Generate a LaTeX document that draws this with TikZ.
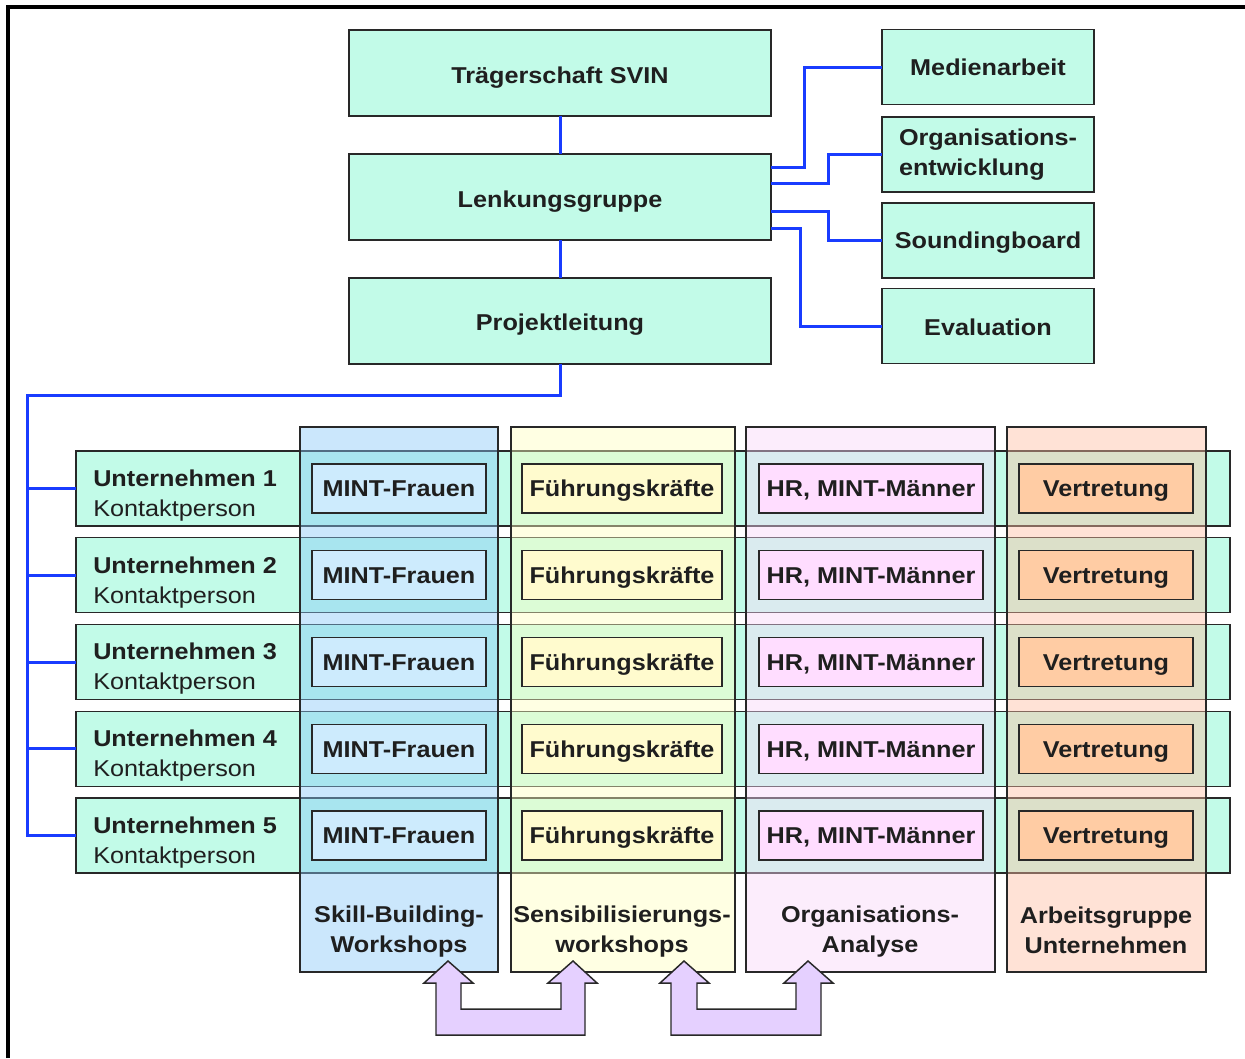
\documentclass[tikz,border=0pt]{standalone}
\usepackage{fontspec}
\setmainfont{Liberation Sans}[FakeStretch=1.1]
\usetikzlibrary{calc}
\definecolor{mint}{RGB}{194,251,232}
\definecolor{colblue}{RGB}{136,201,249}
\definecolor{colyel}{RGB}{255,255,192}
\definecolor{colpink}{RGB}{250,215,250}
\definecolor{colora}{RGB}{255,190,162}
\definecolor{inblue}{RGB}{205,235,253}
\definecolor{inyel}{RGB}{255,251,206}
\definecolor{inpink}{RGB}{255,221,255}
\definecolor{inora}{RGB}{255,204,164}
\definecolor{lav}{RGB}{229,208,255}
\definecolor{wirecol}{RGB}{25,60,255}
\definecolor{edgecol}{RGB}{40,40,40}
\begin{document}
\begin{tikzpicture}[x=0.75pt,y=-0.75pt,
  sz/.style 2 args={minimum width=#1*0.75pt, minimum height=#2*0.75pt},
  txt/.style={font=\fontsize{17.2}{22.5}\selectfont, text=black!88},
  base/.style={txt, draw=edgecol, line width=1.1pt, inner sep=0pt, outer sep=0pt, font=\fontsize{17.2}{22.5}\selectfont\bfseries},
  oneline/.style={text height=12.5pt, text depth=0pt},
  mintbox/.style={base, fill=mint},
  colbox/.style={draw=edgecol, line width=1.1pt, fill opacity=0.43, inner sep=0pt, outer sep=0pt},
  lbl/.style={txt, font=\fontsize{17.2}{22.5}\selectfont\bfseries, align=center, inner sep=0pt},
  wire/.style={draw=wirecol, line width=2.25pt},
  arrowshape/.style={draw=edgecol, line width=1.1pt, fill=lav, line join=miter}
]
\useasboundingbox (0,0) rectangle (1245,1058);
\fill[white] (0,0) rectangle (1245,1058);
% frame
\draw[line width=2.4pt] (8,1058) -- (8,7) -- (1245,7);

% top hierarchy
\node[mintbox, oneline, sz={422}{86}] (trag) at (560,73) {\raisebox{-1.5pt}{Trägerschaft SVIN}};
\node[mintbox, oneline, sz={422}{86}] (lenk) at (560,197) {\raisebox{-1.5pt}{Lenkungsgruppe}};
\node[mintbox, oneline, sz={422}{86}] (proj) at (560,321) {\raisebox{-1pt}{Projektleitung}};
\node[mintbox, oneline, sz={212}{75}] (med) at (988,67) {Medienarbeit};
\node[mintbox, sz={212}{75}, align=left] (org) at (988,154.5) {Organisations-\\entwicklung};
\node[mintbox, oneline, sz={212}{75}] (snd) at (988,240.5) {Soundingboard};
\node[mintbox, oneline, sz={212}{75}] (eva) at (988,326) {\raisebox{-1pt}{Evaluation}};

\draw[wire] (trag.south) -- (lenk.north);
\draw[wire] (lenk.south) -- (proj.north);
\draw[wire] ($(lenk.east)+(0,-30)$) -| ($(med.west)+(-78,0)$) -- (med.west);
\draw[wire] ($(lenk.east)+(0,-14)$) -| ($(org.west)+(-54,0)$) -- (org.west);
\draw[wire] ($(lenk.east)+(0,14)$) -| ($(snd.west)+(-54,0)$) -- (snd.west);
\draw[wire] ($(lenk.east)+(0,31)$) -| ($(eva.west)+(-82,0)$) -- (eva.west);

% company rows
\foreach \i in {1,...,5}{
  \pgfmathsetmacro\cy{488.5+(\i-1)*86.75}
  \node[mintbox, sz={1154}{75}] (row\i) at (653,\cy) {};
  \node[txt, anchor=west, align=left, inner sep=0pt] (ut\i) at (93,\cy+7) {\textbf{Unternehmen \i}\\Kontaktperson};
}

% bus from Projektleitung
\coordinate (bus) at (27,395);
\draw[wire] (proj.south) |- (bus) |- (row5.west);
\foreach \i in {1,...,4}{
  \draw[wire] (bus |- row\i.west) -- (row\i.west);
}

% translucent columns
\node[colbox, fill=colblue, sz={198}{545}] (c1) at (399,699.5) {};
\node[colbox, fill=colyel, sz={224}{545}] (c2) at (623,699.5) {};
\node[colbox, fill=colpink, sz={249}{545}] (c3) at (870.5,699.5) {};
\node[colbox, fill=colora, sz={199}{545}] (c4) at (1106.5,699.5) {};

% inner boxes
\foreach \i in {1,...,5}{
  \pgfmathsetmacro\cy{488.5+(\i-1)*86.75}
  \node[base, oneline, fill=inblue, sz={174}{49}] (mf\i) at (399,\cy) {MINT-Frauen};
  \node[base, oneline, fill=inyel, sz={200}{49}] (fk\i) at (622,\cy) {Führungskräfte};
  \node[base, oneline, fill=inpink, sz={224}{49}] (hr\i) at (871,\cy) {HR, MINT-Männer};
  \node[base, oneline, fill=inora, sz={174}{49}] (vt\i) at (1106,\cy) {Vertretung};
}

% column labels
\node[lbl] (l1) at (399,932) {Skill-Building-\\Workshops};
\node[lbl] (l2) at (622,932) {Sensibilisierungs-\\workshops};
\node[lbl] (l3) at (870,932) {Organisations-\\Analyse};
\node[lbl] (l4) at (1106,930) {Arbeitsgruppe\\Unternehmen};

% double arrows
\draw[arrowshape] (448,961) -- (473,983) -- (461,983) -- (461,1009) -- (561,1009) -- (561,983)
  -- (548,983) -- (573,961) -- (597,983) -- (585,983) -- (585,1035) -- (436,1035) -- (436,983)
  -- (424,983) -- cycle;
\draw[arrowshape] (684,961) -- (709,983) -- (697,983) -- (697,1009) -- (796,1009) -- (796,983)
  -- (784,983) -- (808,961) -- (833,983) -- (821,983) -- (821,1035) -- (671,1035) -- (671,983)
  -- (660,983) -- cycle;
\end{tikzpicture}
\end{document}
